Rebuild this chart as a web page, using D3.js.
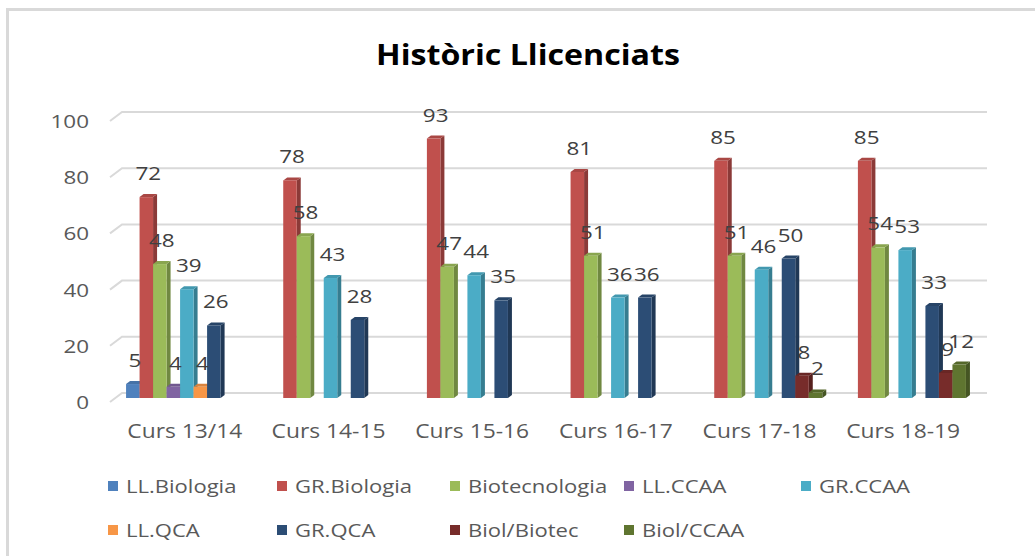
<!DOCTYPE html>
<html>
<head>
<meta charset="utf-8">
<title>Històric Llicenciats</title>
<script src="https://cdn.jsdelivr.net/npm/d3@7"></script>
<style>
body{margin:0;background:#fff;overflow:hidden;}
text{font-family:"Open Sans",sans-serif;}
</style>
</head>
<body>
<div id="chart"></div>
<script>
var W=1035,H=556;

var categories=["Curs 13/14","Curs 14-15","Curs 15-16","Curs 16-17","Curs 17-18","Curs 18-19"];
var series=["LL.Biologia","GR.Biologia","Biotecnologia","LL.CCAA","GR.CCAA","LL.QCA","GR.QCA","Biol/Biotec","Biol/CCAA"];
var colors=["#4f81bd","#c0504d","#9bbb59","#8064a2","#4bacc6","#f79646","#2c4d75","#772c2a","#5f7530"];

var llBiologia   =[5,null,null,null,null,null];
var grBiologia   =[72,78,93,81,85,85];
var biotecnologia=[48,58,47,51,51,54];
var llCCAA       =[4,null,null,null,null,null];
var grCCAA       =[39,43,44,36,46,53];
var llQCA        =[4,null,null,null,null,null];
var grQCA        =[26,28,35,36,50,33];
var biolBiotec   =[null,null,null,null,8,9];
var biolCCAA     =[null,null,null,null,2,12];
var values=[llBiologia,grBiologia,biotecnologia,llCCAA,grCCAA,llQCA,grQCA,biolBiotec,biolCCAA];

var yTicks=[0,20,40,60,80,100];

// 3d depth of the bars
var dx=4,dy=3;

var svg=d3.select('#chart').append('svg')
  .attr('width',W)
  .attr('height',H);

svg.append('rect')
  .attr('x',7.5).attr('y',9.5)
  .attr('width',W+10).attr('height',H+10)
  .attr('fill','white')
  .attr('stroke','#d9d9d9')
  .attr('stroke-width',3);

function place(sel,x,y,sx){
  return sel.attr('transform','translate('+x+','+y+') scale('+sx+',1)');
}

// title
place(svg.append('text'),528,65,1.15)
  .attr('text-anchor','middle')
  .attr('font-size',28)
  .attr('font-weight','bold')
  .attr('fill','#000')
  .text('Històric Llicenciats');

var x=d3.scaleBand().domain(categories).range([115,977]).paddingInner(0.154).paddingOuter(0.077);
var xs=d3.scaleBand().domain(series).range([0,x.bandwidth()]);
var yBack=d3.scaleLinear().domain([0,100]).range([393,112]);
var yFront=d3.scaleLinear().domain([0,100]).range([402,121]);
var yBar=d3.scaleLinear().domain([0,100]).range([398,119]);

// gridlines on the back wall with a slanted side wall
var grid=svg.append('g');
yTicks.forEach(function(t){
  grid.append('path')
    .attr('d','M110,'+yFront(t)+'L122,'+yBack(t)+'L987,'+yBack(t))
    .attr('fill','none')
    .attr('stroke','#d9d9d9')
    .attr('stroke-width',2);
  place(grid.append('text'),89,yFront(t)+7,1.18)
    .attr('text-anchor','end')
    .attr('font-size',19)
    .attr('fill','#595959')
    .text(t);
});

// category labels
categories.forEach(function(c){
  place(svg.append('text'),x(c)+x.bandwidth()/2-2,438,1.14)
    .attr('text-anchor','middle')
    .attr('font-size',20)
    .attr('fill','#595959')
    .text(c);
});

// bars
var bars=svg.append('g');
categories.forEach(function(c,ci){
  series.forEach(function(s,si){
    var v=values[si][ci];
    if(v==null) return;
    var col=d3.color(colors[si]);
    var x0=x(c)+xs(s),w=xs.bandwidth(),y0=yBar(v),yb=yBar(0);
    bars.append('path')
      .attr('d','M'+(x0+w)+','+y0+'L'+(x0+w+dx)+','+(y0-dy)+'L'+(x0+w+dx)+','+(yb-dy)+'L'+(x0+w)+','+yb+'Z')
      .attr('fill',col.darker(0.9));
    bars.append('path')
      .attr('d','M'+x0+','+y0+'L'+(x0+dx)+','+(y0-dy)+'L'+(x0+w+dx)+','+(y0-dy)+'L'+(x0+w)+','+y0+'Z')
      .attr('fill',col.darker(0.35));
    bars.append('rect')
      .attr('x',x0).attr('y',y0)
      .attr('width',w).attr('height',yb-y0)
      .attr('fill',col);
  });
});

// data labels
var labels=svg.append('g');
categories.forEach(function(c,ci){
  series.forEach(function(s,si){
    var v=values[si][ci];
    if(v==null) return;
    place(labels.append('text'),x(c)+xs(s)+xs.bandwidth()/2+2,yBar(v)-17,1.18)
      .attr('text-anchor','middle')
      .attr('font-size',19)
      .attr('fill','#404040')
      .text(v);
  });
});

// legend
var legX=[108,277,450,624,801];
var legend=svg.append('g');
series.forEach(function(s,i){
  var lx=legX[i%5],ly=i<5?493:537;
  legend.append('rect')
    .attr('x',lx).attr('y',ly-12)
    .attr('width',10).attr('height',10)
    .attr('fill',colors[i]);
  place(legend.append('text'),lx+18,ly,1.16)
    .attr('font-size',19)
    .attr('fill','#595959')
    .text(s);
});
</script>
</body>
</html>
